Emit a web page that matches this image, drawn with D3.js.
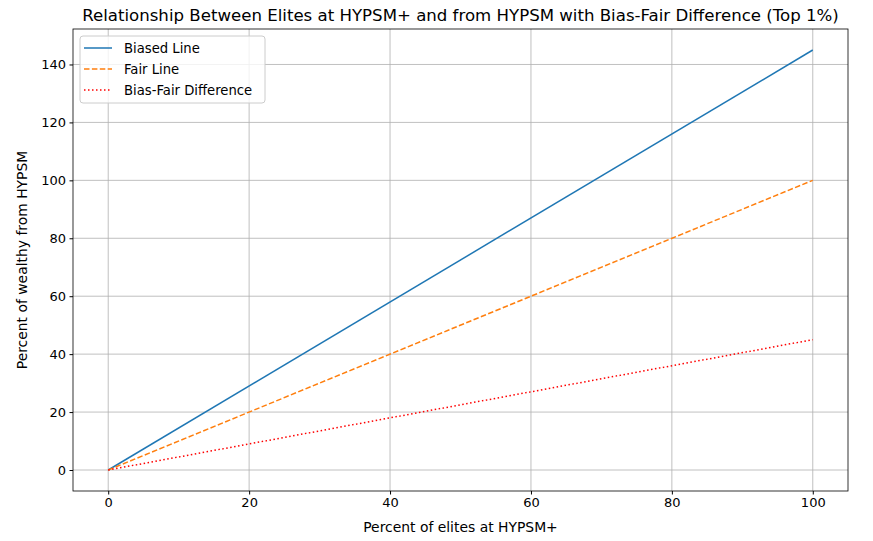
<!DOCTYPE html>
<html><head><meta charset="utf-8">
<script src="https://cdn.jsdelivr.net/npm/d3@7"></script>
<style>body{margin:0;background:#fff;font-family:"DejaVu Sans",sans-serif;}</style>
</head><body><svg id="c" width="873" height="541"></svg>
<script>
const elites = [0, 100];
const biased = [0, 145];
const fair = [0, 100];
const diff = [0, 45];
const xTicks = [0, 20, 40, 60, 80, 100];
const yTicks = [0, 20, 40, 60, 80, 100, 120, 140];

const svg = d3.select("#c");
const L = 73, R = 848, T = 29, B = 491;
const x = d3.scaleLinear().domain([-5, 105]).range([L, R]);
const y = d3.scaleLinear().domain([-7.25, 152.25]).range([B, T]);

const g = svg.append("g");
g.selectAll(".gx").data(xTicks).enter().append("line")
	.attr("x1", d => x(d)).attr("x2", d => x(d)).attr("y1", T).attr("y2", B)
	.style("stroke", "#b0b0b0").style("stroke-width", 0.8);
g.selectAll(".gy").data(yTicks).enter().append("line")
	.attr("y1", d => y(d)).attr("y2", d => y(d)).attr("x1", L).attr("x2", R)
	.style("stroke", "#b0b0b0").style("stroke-width", 0.8);

const series = [
	{name: "Biased Line", vals: biased, color: "#1f77b4", dash: null},
	{name: "Fair Line", vals: fair, color: "#ff7f0e", dash: "5.5,2.4"},
	{name: "Bias-Fair Difference", vals: diff, color: "red", dash: "1.5,2.5"}
];
const line = d3.line().x((d, i) => x(elites[i])).y(d => y(d));
series.forEach(s => {
	g.append("path").attr("d", line(s.vals)).style("fill", "none")
		.style("stroke", s.color).style("stroke-width", 1.5)
		.style("stroke-dasharray", s.dash);
});

g.append("rect").attr("x", L).attr("y", T).attr("width", R - L).attr("height", B - T)
	.style("fill", "none").style("stroke", "black").style("stroke-width", 0.8);

const xa = svg.append("g").attr("transform", "translate(0," + B + ")")
	.call(d3.axisBottom(x).tickValues(xTicks).tickSize(3.5).tickPadding(3.5));
const ya = svg.append("g").attr("transform", "translate(" + L + ",0)")
	.call(d3.axisLeft(y).tickValues(yTicks).tickSize(3.5).tickPadding(3.5));
[xa, ya].forEach(a => {
	a.select(".domain").remove();
	a.selectAll("text").style("font-size", "13px").style("font-family", "DejaVu Sans").style("fill", "black");
});

svg.append("text").attr("x", (L + R) / 2).attr("y", 532).attr("text-anchor", "middle")
	.style("font-size", "13.9px").text("Percent of elites at HYPSM+");
svg.append("text").attr("transform", "translate(27," + (T + B) / 2 + ") rotate(-90)")
	.attr("text-anchor", "middle").style("font-size", "13.9px").text("Percent of wealthy from HYPSM");
svg.append("text").attr("x", (L + R) / 2).attr("y", 21).attr("text-anchor", "middle")
	.style("font-size", "16.6px").text("Relationship Between Elites at HYPSM+ and from HYPSM with Bias-Fair Difference (Top 1%)");

const lg = svg.append("g").attr("transform", "translate(80,36)");
lg.append("rect").attr("width", 185).attr("height", 67).attr("rx", 3)
	.style("fill", "white").style("fill-opacity", 0.8).style("stroke", "#ccc");
series.forEach((s, i) => {
	const yy = 12 + i * 21;
	lg.append("line").attr("x1", 4).attr("x2", 32).attr("y1", yy).attr("y2", yy)
		.style("stroke", s.color).style("stroke-width", 1.5).style("stroke-dasharray", s.dash);
	lg.append("text").attr("x", 44).attr("y", yy + 5).style("font-size", "13.2px").text(s.name);
});
</script></body></html>
